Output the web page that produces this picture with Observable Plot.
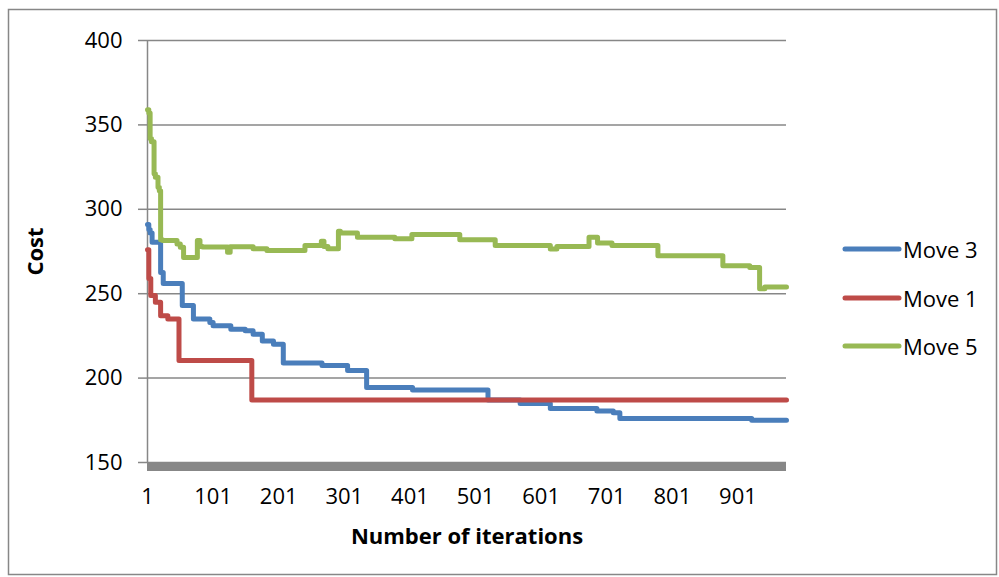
<!DOCTYPE html>
<html>
<head>
<meta charset="utf-8">
<script src="https://cdn.jsdelivr.net/npm/d3@7"></script>
<script src="https://cdn.jsdelivr.net/npm/@observablehq/plot@0.6"></script>
<style>
  body { margin: 0; background: #fff; }
  #wrap { position: relative; width: 999px; height: 577px; font-family: "Open Sans", sans-serif; }
  #wrap svg g[aria-label="y-axis label"] text,
  #wrap svg g[aria-label="x-axis label"] text { font-weight: bold; }
  .legend-item { position: absolute; left: 842px; display: flex; align-items: center; white-space: nowrap; font-size: 22px; color: #000; height: 30px; }
  .legend-item svg { margin-right: 1px; }
</style>
</head>
<body>
<div id="wrap"></div>
<script>
// ---- Data (step change points) ----
const seriesNames = ["Move 3", "Move 1", "Move 5"];
const seriesColors = ["#4a7ebb", "#be4b48", "#98b954"];

const move3Iter = [1, 3, 5, 8, 21, 25, 54, 71, 96, 101, 128, 150, 162, 176, 193, 208, 267, 306, 335, 405, 520, 569, 615, 686, 711, 721, 922, 975];
const move3Cost = [291, 288, 286, 280.5, 262.5, 256, 243, 235, 233, 231, 229, 228, 226, 222, 220, 209, 207.5, 204.5, 194.5, 193, 187, 185, 182, 180.5, 179.5, 176, 175, 175];

const move1Iter = [1, 3, 6, 13, 21, 32, 49, 160, 975];
const move1Cost = [276, 259, 249, 245, 237, 235, 210.5, 187, 187];

const move5Iter = [1, 3, 5, 7, 11, 13, 17, 19, 21, 24, 46, 51, 56, 77, 81, 85, 123, 127, 162, 183, 241, 266, 270, 276, 292, 295, 321, 378, 404, 477, 531, 615, 625, 674, 687, 709, 779, 878, 919, 934, 942, 975];
const move5Cost = [359, 357, 342, 340, 321, 319, 313, 311, 282, 281.5, 279.5, 277.5, 271.5, 281.5, 278, 277.6, 274.6, 277.8, 276.6, 275.6, 278.5, 281, 278, 276.6, 287, 286, 283.5, 282.5, 285, 282, 278.5, 276.5, 278, 283.5, 280, 278.5, 272.5, 266.5, 265.5, 253, 254, 254];

const xTicks = [1, 101, 201, 301, 401, 501, 601, 701, 801, 901];
const yTicks = [150, 200, 250, 300, 350, 400];
const xTitle = "Number of iterations";
const yTitle = "Cost";

// ---- Build table ----
const seriesIters = [move3Iter, move1Iter, move5Iter];
const seriesCosts = [move3Cost, move1Cost, move5Cost];
const rows = [];
seriesNames.forEach((name, s) => {
  seriesIters[s].forEach((it, k) => rows.push({series: name, iter: it, cost: seriesCosts[s][k]}));
});

const gridColor = "#878787";

const chart = Plot.plot({
  width: 999,
  height: 577,
  marginLeft: 147,
  marginRight: 213,
  marginTop: 40,
  marginBottom: 115,
  style: { fontFamily: "'Open Sans', sans-serif", fontSize: "22px", color: "#000", background: "transparent" },
  x: { domain: [1, 975] },
  y: { domain: [150, 400] },
  color: { domain: seriesNames, range: seriesColors },
  marks: [
    Plot.gridY(yTicks, { stroke: gridColor, strokeOpacity: 1, strokeWidth: 1.5 }),
    Plot.ruleX([1], { stroke: gridColor, strokeWidth: 1.5 }),
    Plot.ruleY([150], { stroke: gridColor, strokeWidth: 9, dy: 4 }),
    Plot.axisY({
      ticks: yTicks, tickSize: 9, tickPadding: 16, stroke: gridColor, strokeWidth: 1.5,
      label: yTitle, labelAnchor: "center", labelArrow: "none", labelOffset: 120
    }),
    Plot.axisX({
      ticks: xTicks, tickSize: 0, tickPadding: 26, tickFormat: d => String(d),
      label: xTitle, labelAnchor: "center", labelArrow: "none", labelOffset: 81
    }),
    Plot.line(rows, {
      x: "iter", y: "cost", z: "series", stroke: "series",
      curve: "step-after", strokeWidth: 5, strokeLinejoin: "round", strokeLinecap: "round"
    })
  ]
});

const wrap = document.getElementById("wrap");
wrap.appendChild(chart);

// outer chart border
d3.select(chart).append("rect")
  .attr("x", 8.5).attr("y", 9.5)
  .attr("width", 988).attr("height", 565)
  .attr("fill", "none").attr("stroke", gridColor).attr("stroke-width", 1.5);

// legend
const legendTops = [249, 297.5, 346];
seriesNames.forEach((name, i) => {
  const item = document.createElement("div");
  item.className = "legend-item";
  item.style.top = (legendTops[i] - 15) + "px";
  item.innerHTML = `<svg width="60" height="10"><line x1="3" y1="5" x2="57" y2="5" stroke="${seriesColors[i]}" stroke-width="5" stroke-linecap="round"/></svg><span>${name}</span>`;
  wrap.appendChild(item);
});
</script>
</body>
</html>
